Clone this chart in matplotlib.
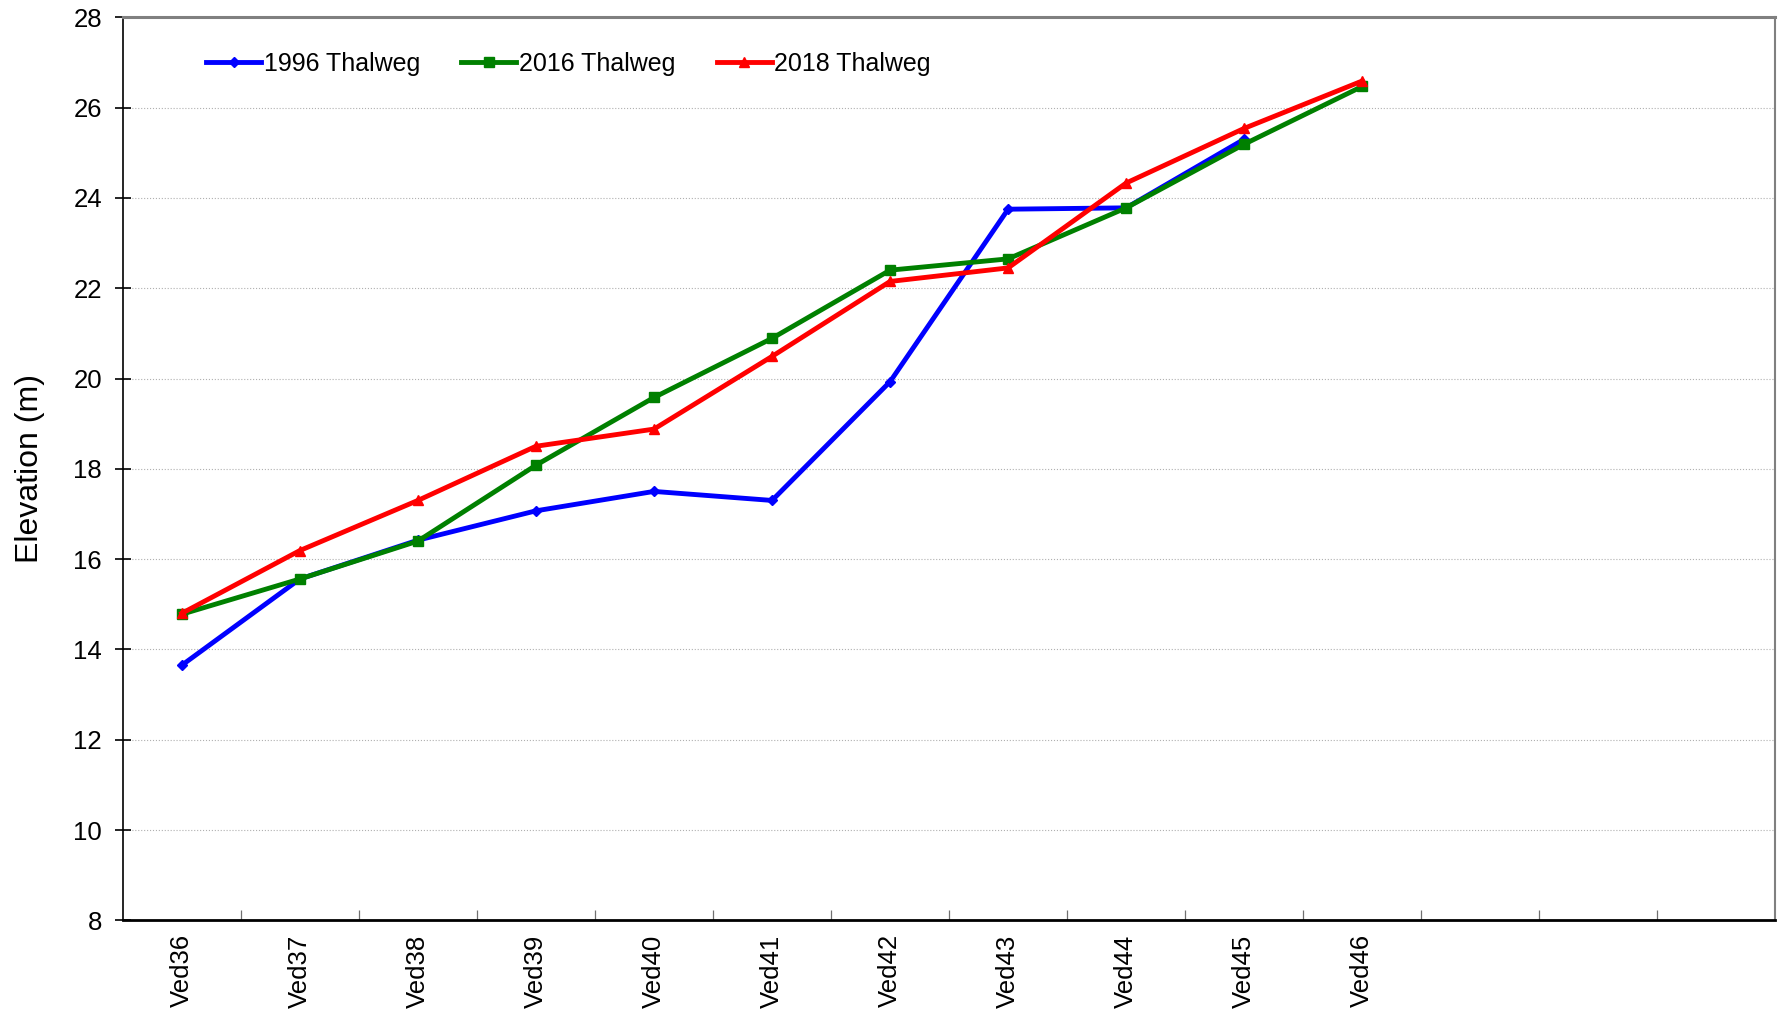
import numpy as np
import matplotlib
matplotlib.use('Agg')
import matplotlib.pyplot as plt
from matplotlib.ticker import FixedLocator

plt.rcParams['font.family'] = ['Liberation Sans', 'DejaVu Sans']

# categories (last three slots are empty in the original sheet)
stations = ['Ved36', 'Ved37', 'Ved38', 'Ved39', 'Ved40', 'Ved41',
            'Ved42', 'Ved43', 'Ved44', 'Ved45', 'Ved46', '', '', '']

thal_1996 = [13.65, 15.56, 16.42, 17.07, 17.5, 17.3, 19.93, 23.75, 23.78, 25.3, np.nan]
thal_2016 = [14.78, 15.56, 16.4, 18.08, 19.58, 20.89, 22.4, 22.65, 23.78, 25.19, 26.47]
thal_2018 = [14.8, 16.19, 17.3, 18.5, 18.88, 20.49, 22.15, 22.45, 24.33, 25.54, 26.59]

fig = plt.figure(figsize=(17.79, 10.17), dpi=100)
ax = fig.add_axes([0.069, 0.095, 0.929, 0.888])

x = np.arange(len(thal_2016))
ax.plot(x, thal_1996, color='#0000ff', lw=3.5, marker='D', ms=5, label='1996 Thalweg')
ax.plot(x, thal_2016, color='#008000', lw=3.5, marker='s', ms=7, label='2016 Thalweg')
ax.plot(x, thal_2018, color='#ff0000', lw=3.5, marker='^', ms=7, label='2018 Thalweg')

ax.set_xlim(-0.5, len(stations) - 0.5)
ax.set_ylim(8, 28)
ax.set_yticks(np.arange(8, 29, 2))
ax.yaxis.grid(True, color='#b0b0b0', ls=':', lw=0.8)
ax.set_axisbelow(True)

ax.set_xticks(np.arange(len(stations)))
ax.set_xticklabels(stations, rotation=90, fontsize=18.5)
ax.xaxis.set_minor_locator(FixedLocator(np.arange(0.5, len(stations) - 0.5, 1)))
ax.tick_params(axis='x', which='major', length=0, pad=10)
ax.tick_params(axis='x', which='minor', direction='in', length=7, color='#707070', width=0.9)
ax.tick_params(axis='y', direction='inout', length=12, width=1.2, labelsize=18.5, pad=9)

ax.set_ylabel('Elevation (m)', fontsize=23, labelpad=20)

ax.spines['left'].set_linewidth(1.2)
ax.spines['bottom'].set_linewidth(2.0)
ax.spines['top'].set_color('#808080')
ax.spines['top'].set_linewidth(2.2)
ax.spines['right'].set_color('#808080')
ax.spines['right'].set_linewidth(1.5)

ax.legend(loc='upper left', bbox_to_anchor=(0.037, 0.987), ncol=3, frameon=False,
          fontsize=18, handlelength=2.2, handletextpad=0.1, columnspacing=1.65)

plt.savefig('out.png', dpi=100)
